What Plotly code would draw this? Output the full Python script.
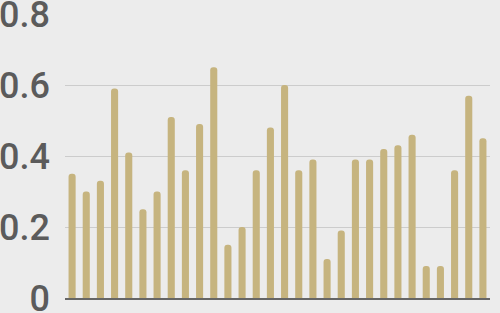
import plotly.graph_objects as go

categories = list(range(1, 31))
values = [0.35, 0.30, 0.33, 0.59, 0.41, 0.25, 0.30, 0.51, 0.36, 0.49,
          0.65, 0.15, 0.20, 0.36, 0.48, 0.60, 0.36, 0.39, 0.11, 0.19,
          0.39, 0.39, 0.42, 0.43, 0.46, 0.09, 0.09, 0.36, 0.57, 0.45]
y_ticks = [0, 0.2, 0.4, 0.6, 0.8]
y_tick_labels = ["0", "0.2", "0.4", "0.6", "0.8"]

fig = go.Figure(go.Bar(
    x=categories, y=values,
    marker=dict(color="#c6b47f", cornerradius=3, line=dict(width=0)),
))
fig.update_layout(
    width=500, height=313,
    margin=dict(l=65, r=10, t=14, b=15),
    paper_bgcolor="#ececec", plot_bgcolor="#ececec",
    bargap=0.5, showlegend=False,
    xaxis=dict(showticklabels=False, showgrid=False, zeroline=False,
               showline=True, linecolor="#666666", linewidth=2,
               range=[0.5, 30.5], ticks="", automargin=False),
    yaxis=dict(range=[0, 0.8], tickvals=y_ticks, ticktext=y_tick_labels,
               showgrid=True, gridcolor="#cccccc", gridwidth=1,
               zeroline=False, showline=False, ticks="",
               ticklabelstandoff=14, ticklabeloverflow="allow",
               automargin=False,
               tickfont=dict(family="Roboto", size=36,
                             color="#5b5b5b", weight=500)),
)
fig.write_html("out.html")
